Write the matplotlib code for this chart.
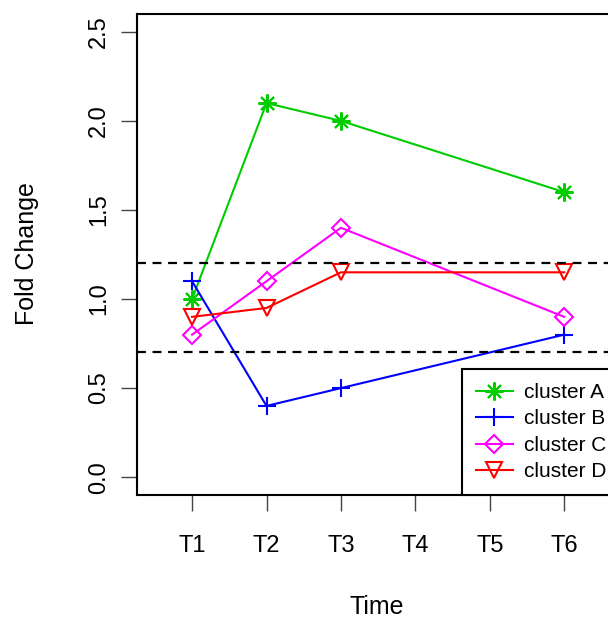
import numpy as np
import matplotlib
matplotlib.use("Agg")
from matplotlib import pyplot as plt

plt.rcParams['font.family'] = ['Liberation Sans', 'DejaVu Sans']

temps = ['T1', 'T2', 'T3', 'T4', 'T5', 'T6']
pos_mesure = [1, 2, 3, 6]
cluster_a = [1.0, 2.1, 2.0, 1.6]
cluster_b = [1.1, 0.4, 0.5, 0.8]
cluster_c = [0.8, 1.1, 1.4, 0.9]
cluster_d = [0.9, 0.95, 1.15, 1.15]
noms = ['cluster A', 'cluster B', 'cluster C', 'cluster D']
seuil_haut = 1.2
seuil_bas = 0.7

couleurs = ['#00CD00', '#0000FF', '#FF00FF', '#FF0000']
marqueurs = [(8, 2, 0), '+', 'D', 'v']
tailles = [13, 13, 9, 11]

fig = plt.figure(figsize=(6.08, 6.19), dpi=100)
ax = fig.add_axes([137/608, 1-495/619, 521/608, 481/619])

series = [cluster_a, cluster_b, cluster_c, cluster_d]
handles = []
for y, c, m, s, nom in zip(series, couleurs, marqueurs, tailles, noms):
    h, = ax.plot(pos_mesure, y, color=c, marker=m, markersize=s,
                 markerfacecolor='none', markeredgecolor=c, markeredgewidth=1.5,
                 linewidth=1.5, label=nom)
    handles.append(h)

ax.axhline(seuil_haut, color='black', linestyle=(0, (4, 3)), linewidth=1.6)
ax.axhline(seuil_bas, color='black', linestyle=(0, (4, 3)), linewidth=1.6)

ax.set_xlim(0.26, 7.26)
ax.set_ylim(-0.1, 2.6)
ax.set_xticks(range(1, 7))
ax.set_xticklabels(temps)
ax.set_yticks(np.arange(0, 2.51, 0.5))
ax.set_yticklabels(['0.0', '0.5', '1.0', '1.5', '2.0', '2.5'], rotation=90, va='center')
ax.tick_params(direction='out', length=11.5, width=1, labelsize=17, color='#444444')
ax.tick_params(axis='y', pad=8)
ax.tick_params(axis='x', pad=17)
for sp in ax.spines.values():
    sp.set_linewidth(1.5)

fig.text(27/608, 1-254/619, 'Fold Change', rotation=90, ha='center', va='center', fontsize=18)
fig.text(377/608, 1-614/619, 'Time', ha='center', va='baseline', fontsize=18)

leg = fig.legend(handles=handles, loc='lower left', bbox_to_anchor=(462/608, 1-495/619),
                 borderaxespad=0, fancybox=False, edgecolor='black', framealpha=1,
                 fontsize=15, handlelength=1.8, labelspacing=0.36, handletextpad=0.55,
                 borderpad=0.65)
leg.get_frame().set_linewidth(1.5)

fig.savefig('out.png', dpi=100)
